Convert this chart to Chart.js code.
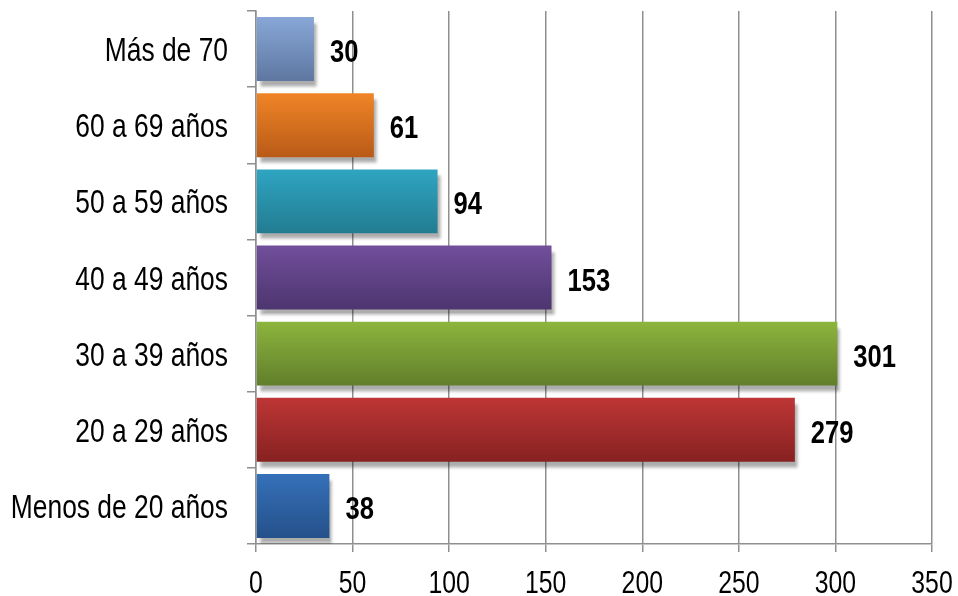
<!DOCTYPE html>
<html>
<head>
<meta charset="utf-8">
<script src="https://cdn.jsdelivr.net/npm/chart.js@4"></script>
<style>
  html, body { margin: 0; padding: 0; background: #ffffff; }
  #wrap { width: 958px; height: 596px; }
</style>
</head>
<body>
<div id="wrap"><canvas id="edadesChart" width="958" height="596"></canvas></div>
<script>
// Grupos de edad, de arriba hacia abajo
const categorias = ["Más de 70", "60 a 69 años", "50 a 59 años", "40 a 49 años", "30 a 39 años", "20 a 29 años", "Menos de 20 años"];
const valores = [30, 61, 94, 153, 301, 279, 38];
const coloresArriba = ["#88a7d7", "#f08527", "#2fa5c2", "#714f9b", "#8db53d", "#be3636", "#3571b9"];
const coloresAbajo = ["#5e77a1", "#b95a17", "#227c91", "#4d356f", "#617e2b", "#872121", "#25518a"];
const ticksX = [0, 50, 100, 150, 200, 250, 300, 350];

// no hay Arial Narrow: se comprime Liberation Sans en horizontal
const fuente = "'Liberation Sans', Arial, sans-serif";
const estrecho = 0.8;
const gris = "#8f8f8f";

function textoEstrecho(c, texto, x, y, alinear) {
  c.save();
  c.translate(x, y);
  c.scale(estrecho, 1);
  c.textAlign = alinear;
  c.fillText(texto, 0, 0);
  c.restore();
}

function degradado(ctx) {
  const chart = ctx.chart;
  const i = ctx.dataIndex;
  if (!chart.chartArea || !chart.scales.y) return coloresAbajo[i];
  const y = chart.scales.y;
  const centro = y.getPixelForValue(i);
  const banda = Math.abs(y.getPixelForValue(1) - y.getPixelForValue(0));
  const mitad = banda * 0.84 / 2;
  const g = chart.ctx.createLinearGradient(0, centro - mitad, 0, centro + mitad);
  g.addColorStop(0, coloresArriba[i]);
  g.addColorStop(1, coloresAbajo[i]);
  return g;
}

// sombra gris debajo de las barras
const sombra = {
  id: "sombra",
  beforeDatasetsDraw(chart) {
    const c = chart.ctx;
    c.save();
    c.shadowColor = "rgba(0,0,0,0.32)";
    c.shadowBlur = 3;
    c.shadowOffsetX = 3;
    c.shadowOffsetY = 6;
  },
  afterDatasetsDraw(chart) {
    chart.ctx.restore();
  }
};

// textos de ejes y valores
const textos = {
  id: "textos",
  afterDraw(chart) {
    const c = chart.ctx;
    const x = chart.scales.x;
    const y = chart.scales.y;
    const meta = chart.getDatasetMeta(0);
    c.save();
    c.fillStyle = "#000000";
    c.textBaseline = "alphabetic";

    c.font = "33px " + fuente;
    categorias.forEach(function (cat, i) {
      textoEstrecho(c, cat, 228, y.getPixelForValue(i) + 12, "right");
    });

    c.font = "31px " + fuente;
    ticksX.forEach(function (v) {
      textoEstrecho(c, String(v), x.getPixelForValue(v), 593, "center");
    });

    c.font = "bold 32px " + fuente;
    meta.data.forEach(function (barra, i) {
      textoEstrecho(c, String(valores[i]), barra.x + 16, barra.y + 13, "left");
    });
    c.restore();
  }
};

document.addEventListener("DOMContentLoaded", function () {
  const ctx = document.getElementById("edadesChart").getContext("2d");
  new Chart(ctx, {
    type: "bar",
    data: {
      labels: categorias,
      datasets: [
        {
          data: valores,
          backgroundColor: degradado,
          borderWidth: 0,
          barPercentage: 0.84,
          categoryPercentage: 1,
        },
      ],
    },
    options: {
      indexAxis: "y",
      responsive: false,
      animation: false,
      layout: { padding: { top: 11, right: 26, bottom: 0, left: 0 } },
      plugins: {
        legend: { display: false },
        tooltip: { enabled: false },
      },
      scales: {
        x: {
          min: 0,
          max: 350,
          afterBuildTicks(scale) {
            scale.ticks = ticksX.map(function (v) { return { value: v }; });
          },
          afterFit(scale) { scale.height = 52; },
          grid: { color: gris, lineWidth: 1.5, tickLength: 8 },
          border: { color: gris, width: 1.5 },
          ticks: { display: false },
        },
        y: {
          offset: true,
          afterFit(scale) { scale.width = 256; },
          grid: { offset: true, drawOnChartArea: false, color: gris, lineWidth: 1.5, tickLength: 9 },
          border: { color: gris, width: 1.5 },
          ticks: { display: false },
        },
      },
    },
    plugins: [sombra, textos],
  });
});
</script>
</body>
</html>
